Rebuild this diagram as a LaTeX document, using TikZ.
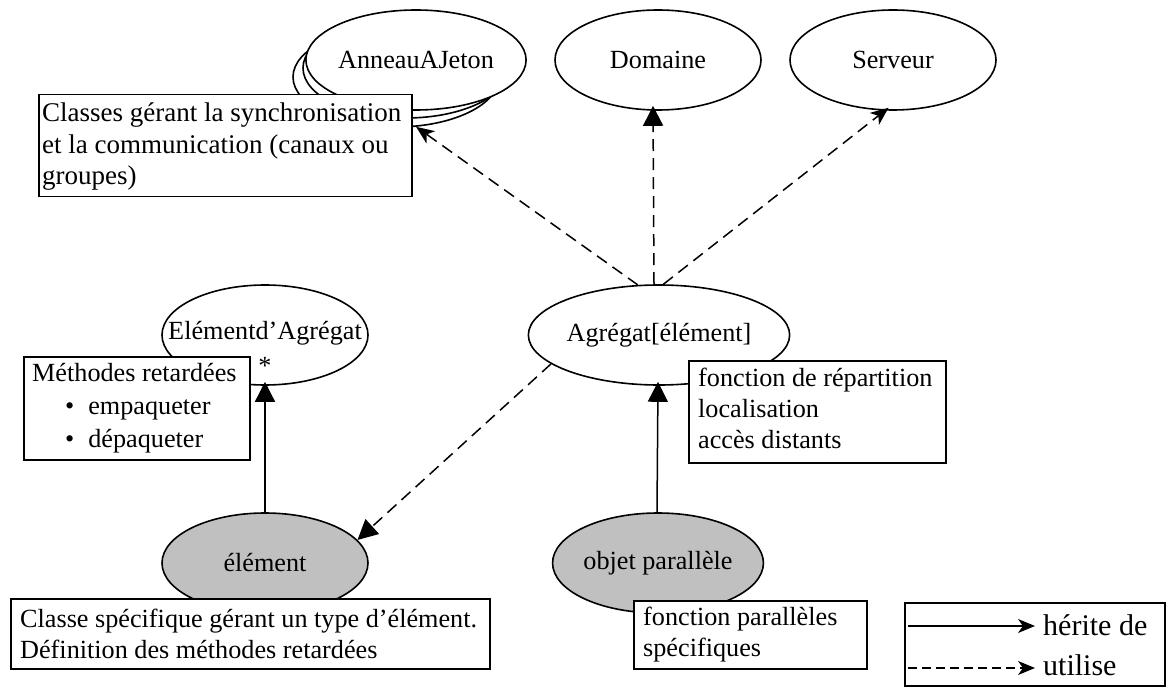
\documentclass[tikz,border=0pt]{standalone}
\usepackage{fontspec}
\setmainfont{Liberation Serif}
\usetikzlibrary{shapes.geometric,arrows.meta}
\definecolor{clsgray}{RGB}{192,192,192}
\tikzset{
  cls/.style={ellipse, draw, line width=1.6pt, minimum width=206pt,
    minimum height=100pt, inner sep=0pt, fill=white},
  clsfilled/.style={cls, fill=clsgray},
  notebox/.style={draw, fill=white, line width=1.5pt, anchor=north west, inner sep=0pt},
  notetext/.style={anchor=west, inner sep=0pt, align=left},
  legtext/.style={inner sep=0pt, anchor=west, font=\fontsize{30pt}{36pt}\selectfont},
  inherit/.style={line width=1.5pt, -{Triangle[length=20pt,width=20pt]}},
  usesT/.style={line width=1.5pt, dash pattern=on 12pt off 7pt,
    -{Triangle[length=20pt,width=20pt]}},
  usesS/.style={line width=1.5pt, dash pattern=on 12pt off 7pt,
    -{Stealth[length=18pt,width=15pt,inset=5pt]}},
  legS/.style={line width=1.3pt, -{Stealth[length=17pt,width=14pt,inset=5pt]}},
  legD/.style={line width=1.3pt, dash pattern=on 9pt off 5pt,
    -{Stealth[length=17pt,width=14pt,inset=5pt]}},
}
\begin{document}
\begin{tikzpicture}[x=1pt, y=-1pt, font=\fontsize{26.2pt}{31pt}\selectfont]
\useasboundingbox (0,0) rectangle (1167,695);

% stacked class (several token rings)
\node[cls] (ring3) at (396,77) {};
\node[cls] (ring2) at (406,68) {};
\node[cls] (ring1) at (416,60) {AnneauAJeton};

\node[cls] (dom)  at (658,60) {Domaine};
\node[cls] (serv) at (893,60) {Serveur};

\node[cls] (eltagg) at (265,335) {};
\node[inner sep=0pt] (eltaggname) at (265,333) {Elémentd’Agrégat};
\node[inner sep=0pt] (star) at (265,366) {*};
\node[cls] (agg) at (659,335) {Agrégat[élément]};

\node[clsfilled] (elem) at (265,563) {élément};
\node[clsfilled] (obj)  at (658,563) {objet parallèle};

% uses relations
\draw[usesS] (agg.113) -- (ring3.-68);
\draw[usesT] ([xshift=-5pt]agg.north) -- ([xshift=-5pt,yshift=5pt]dom.south);
\draw[usesS] (agg.85) -- ([yshift=3pt]serv.265);
\draw[usesT] (agg.195) -- (elem.14);

% inheritance
\draw[inherit] (elem.north) -- ([yshift=4pt]eltagg.south);
\draw[inherit] ([xshift=-1pt]obj.north) -- ([xshift=-1pt,yshift=4pt]agg.south);

% notes
\node[notebox, minimum width=373pt, minimum height=102pt] (n1) at (38,94) {};
\node[notetext, font=\fontsize{27pt}{31.5pt}\selectfont] (n1t) at ([xshift=4pt,yshift=-1pt]n1.west)
  {Classes gérant la synchronisation\\et la communication (canaux ou\\groupes)};

\node[notebox, minimum width=226pt, minimum height=103pt] (n2) at (23,356) {};
\node[notetext] (n2t) at ([xshift=9pt]n2.west)
  {Méthodes retardées\\[2pt]
   \hspace*{33pt}\textbullet\hspace{14pt}empaqueter\\[2pt]
   \hspace*{33pt}\textbullet\hspace{14pt}dépaqueter};

\node[notebox, minimum width=257pt, minimum height=102pt] (n3) at (688,360) {};
\node[notetext] (n3t) at ([xshift=10pt,yshift=3pt]n3.west)
  {fonction de répartition\\localisation\\accès distants};

\node[notebox, minimum width=479pt, minimum height=70pt] (n4) at (10,598) {};
\node[notetext] (n4t) at ([xshift=10pt]n4.west)
  {Classe spécifique gérant un type d’élément.\\Définition des méthodes retardées};

\node[notebox, minimum width=233pt, minimum height=68pt] (n5) at (633,600) {};
\node[notetext] (n5t) at ([xshift=10pt]n5.west)
  {fonction parallèles\\spécifiques};

% legend
\node[notebox, minimum width=260pt, minimum height=83pt] (leg) at (904,602) {};
\node[legtext] (herite) at (1043,625) {hérite de};
\node[legtext] (utilise) at (1043,665) {utilise};
\coordinate (hstart) at (908,626);
\coordinate (ustart) at (908,668);
\draw[legS] (hstart) -- ([xshift=-8pt]hstart -| herite.west);
\draw[legD] (ustart) -- ([xshift=-8pt]ustart -| utilise.west);
\end{tikzpicture}
\end{document}
